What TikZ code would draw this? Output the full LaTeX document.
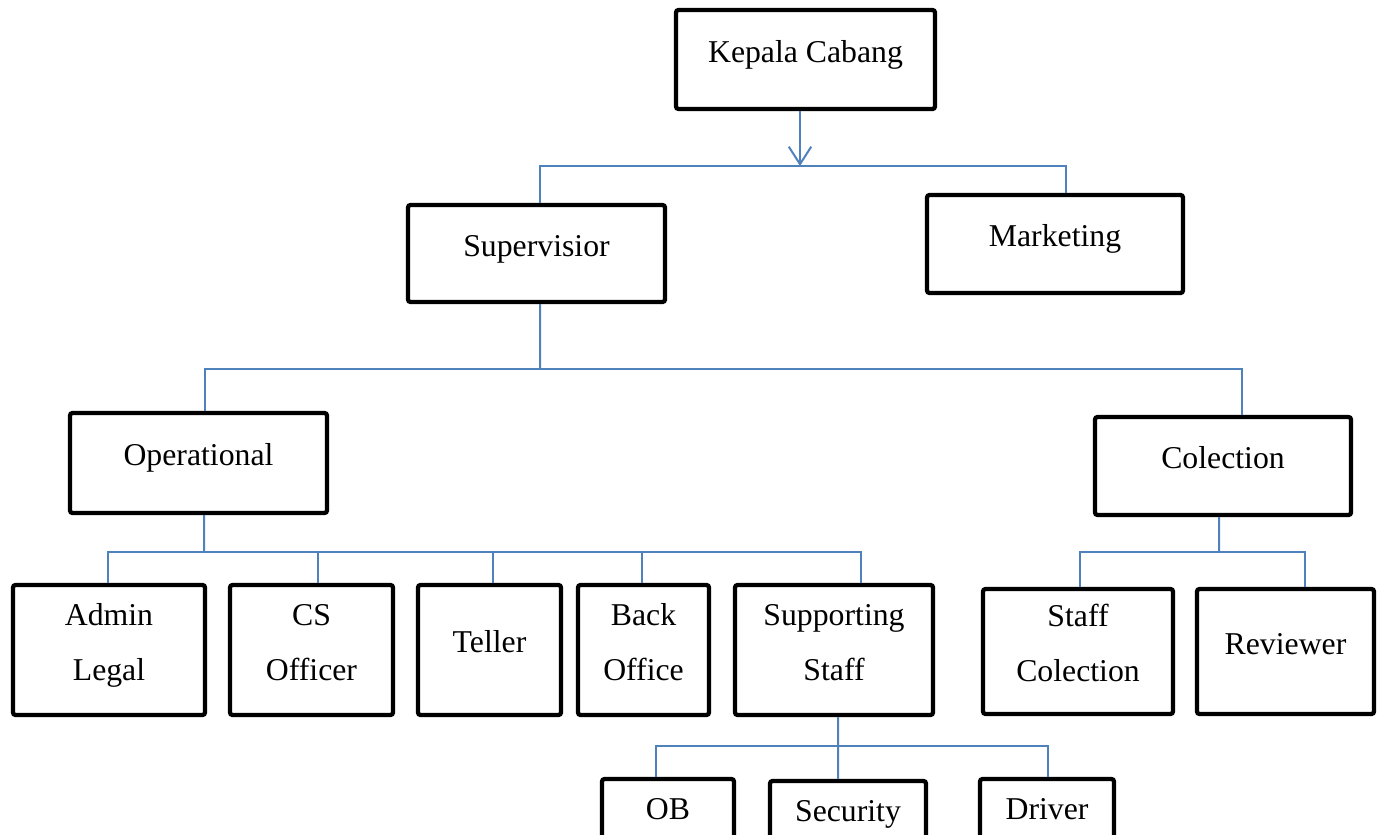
\documentclass[tikz,border=0pt]{standalone}
\usepackage{fontspec}
\setmainfont{Liberation Serif}
\usetikzlibrary{arrows.meta}
\definecolor{garisbiru}{RGB}{79,129,189}
\tikzset{
  kotak/.style={draw,line width=1.7pt,rounded corners=1pt,align=center,inner sep=0pt,
    font=\fontsize{12.7}{22}\selectfont,text height=8.7pt,text depth=6.7pt},
  kotakdua/.style={kotak,text height=30.7pt,text depth=6.5pt},
  garis/.style={draw=garisbiru,line width=0.8pt}
}
\begin{document}
\begin{tikzpicture}[x=0.4pt,y=-0.4pt]
    \useasboundingbox (0,0) rectangle (1378,834);
    \clip (0,0) rectangle (1378,834);
    % boxes
    \node (kc) at (805.5,59.5) [kotak,minimum width=103.6pt,minimum height=39.6pt] {Kepala Cabang};
    \node (sup) at (536.5,253.5) [kotak,minimum width=102.8pt,minimum height=38.8pt] {Supervisior};
    \node (mkt) at (1055,244) [kotak,minimum width=102.4pt,minimum height=39.2pt] {Marketing};
    \node (ops) at (198.5,463) [kotak,minimum width=102.8pt,minimum height=40pt] {Operational};
    \node (col) at (1223,466) [kotak,minimum width=102.4pt,minimum height=39.2pt] {Colection};
    \node (adm) at (109,650) [kotakdua,minimum width=76.8pt,minimum height=52pt] {Admin\\Legal};
    \node (cs) at (311.5,650) [kotakdua,minimum width=65.2pt,minimum height=52pt] {CS\\Officer};
    \node (tel) at (489.5,650) [kotak,minimum width=57.2pt,minimum height=52pt] {Teller};
    \node (bo) at (643.5,650) [kotakdua,minimum width=52.4pt,minimum height=52pt] {Back\\Office};
    \node (ss) at (834,650) [kotakdua,minimum width=79.2pt,minimum height=52pt] {Supporting\\Staff};
    \node (sc) at (1078,651.5) [kotakdua,minimum width=76pt,minimum height=50pt] {Staff\\Colection};
    \node (rev) at (1285.5,651.5) [kotak,minimum width=70.8pt,minimum height=50pt] {Reviewer};
    \node (ob) at (668,817) [kotak,minimum width=52.8pt,minimum height=30.4pt] {OB};
    \node (sec) at (848,819) [kotak,minimum width=62.4pt,minimum height=30.4pt] {Security};
    \node (drv) at (1047,817) [kotak,minimum width=53.6pt,minimum height=30.4pt] {Driver};
    % bus points
    \coordinate (b1) at (800,166);
    \coordinate (b2) at (540,369);
    \coordinate (b3) at (204,552);
    \coordinate (b4) at (838,746);
    \coordinate (b5) at (1219,552);
    % connectors
    \draw[garis,-{Straight Barb[length=7pt,width=9pt]}] (kc.south -| b1) -- (b1);
    \draw[garis] ([xshift=1.4pt]sup.north) |- (b1) -| ([xshift=4.4pt]mkt.north);
    \draw[garis] ([xshift=1.4pt]sup.south) -- (b2);
    \draw[garis] ([xshift=2.6pt]ops.north) |- (b2) -| ([xshift=7.6pt]col.north);
    \draw[garis] ([xshift=2.2pt]ops.south) -- (b3);
    \draw[garis] ([xshift=-0.4pt]adm.north) |- (b3) -| ([xshift=10.8pt]ss.north);
    \draw[garis] ([xshift=2.6pt]cs.north) -- ++(0,-31);
    \draw[garis] ([xshift=1.4pt]tel.north) -- ++(0,-31);
    \draw[garis] ([xshift=-0.6pt]bo.north) -- ++(0,-31);
    \draw[garis] ([xshift=1.6pt]ss.south) -- ([xshift=-4pt]sec.north);
    \draw[garis] ([xshift=-4.8pt]ob.north) |- (b4) -| ([xshift=0.4pt]drv.north);
    \draw[garis] ([xshift=-1.6pt]col.south) -- (b5);
    \draw[garis] ([xshift=0.8pt]sc.north) |- (b5) -| ([xshift=7.8pt]rev.north);
\end{tikzpicture}
\end{document}
